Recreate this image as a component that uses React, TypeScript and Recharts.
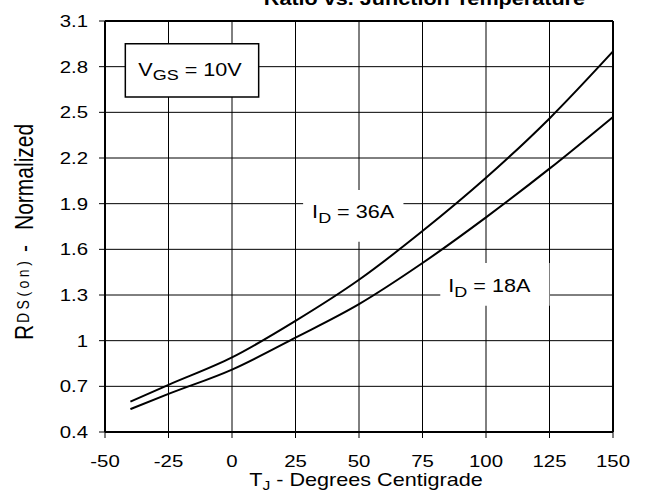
import { LineChart, Line, XAxis, YAxis, CartesianGrid, ReferenceArea, ReferenceLine } from 'recharts'

const temps = [-40, -25, 0, 25, 50, 75, 100, 125, 150]
const id36 = [0.6, 0.71, 0.89, 1.13, 1.4, 1.72, 2.07, 2.46, 2.9]
const id18 = [0.55, 0.65, 0.81, 1.02, 1.24, 1.51, 1.81, 2.13, 2.47]
const xTicks = [-50, -25, 0, 25, 50, 75, 100, 125, 150]
const yTicks = [0.4, 0.7, 1, 1.3, 1.6, 1.9, 2.2, 2.5, 2.8, 3.1]

const data = temps.map((t, i) => ({ t, a36: id36[i], a18: id18[i] }))

const FONT = '"Liberation Sans", Arial, sans-serif'
// the source figure is stretched sideways, so horizontal text gets a bit of x scale
const SX = 1.2

function XTick({ x, y, payload }: any) {
  return (
    <text transform={`translate(${x} ${y}) scale(${SX} 1)`} textAnchor="middle" dy="0.71em"
      fontFamily={FONT} fontSize={17} fill="#000">
      {payload.value}
    </text>
  )
}

function YTick({ x, y, payload }: any) {
  const v = Math.round(payload.value * 10) / 10
  return (
    <text transform={`translate(${x} ${y}) scale(${SX} 1)`} textAnchor="end" dy="0.355em"
      fontFamily={FONT} fontSize={17} fill="#000">
      {String(v)}
    </text>
  )
}

function BoxLabel({ viewBox, main, sub, rest, dx, dy, subDy }: any) {
  if (!viewBox) return null
  return (
    <text transform={`translate(${viewBox.x + dx} ${viewBox.y + dy}) scale(${SX} 1)`}
      fontFamily={FONT} fontSize={18} fill="#000">
      {main}
      <tspan fontSize={15} dy={subDy}>{sub}</tspan>
      <tspan dy={-subDy}>{rest}</tspan>
    </text>
  )
}

export default function App() {
  return (
    <div style={{ position: 'absolute', left: 0, top: 0, width: 650, height: 502, background: '#fff' }}>
      <LineChart width={650} height={502} data={data} margin={{ top: 21, right: 37, bottom: 40, left: 45 }}>
        <text transform={`translate(585 5) scale(${SX} 1)`} textAnchor="end" fontFamily={FONT}
          fontSize={18} fontWeight="bold" fill="#000">
          Ratio vs. Junction Temperature
        </text>
        {/* axis titles */}
        <text transform={`translate(366 486) scale(${SX} 1)`} textAnchor="middle" fontFamily={FONT}
          fontSize={18} fill="#000">
          T<tspan fontSize={13} dy={4}>J</tspan>
          <tspan dy={-4}> - Degrees Centigrade</tspan>
        </text>
        <text transform="translate(33 340) rotate(-90) scale(1 1.2)" fontFamily={FONT} fontSize={21} fill="#000">
          <tspan x={0}>R</tspan>
          <tspan x={17} dy={-3} fontSize={14} letterSpacing={3.5}>DS(on)</tspan>
          <tspan x={88} dy={3}>-</tspan>
          <tspan x={110}>Normalized</tspan>
        </text>
        <CartesianGrid stroke="#000" strokeWidth={1} />
        <XAxis
          dataKey="t"
          type="number"
          domain={[-50, 150]}
          ticks={xTicks}
          interval={0}
          tickSize={6}
          tickMargin={17}
          axisLine={{ stroke: '#000', strokeWidth: 2 }}
          tickLine={{ stroke: '#000' }}
          tick={<XTick />}
        />
        <YAxis
          type="number"
          domain={[0.4, 3.1]}
          ticks={yTicks}
          interval={0}
          width={60}
          tickSize={6}
          tickMargin={11}
          axisLine={{ stroke: '#000', strokeWidth: 2 }}
          tickLine={{ stroke: '#000' }}
          tick={<YTick />}
        />
        <ReferenceLine y={3.1} stroke="#000" strokeWidth={2} />
        <ReferenceLine x={150} stroke="#000" strokeWidth={2} />
        <ReferenceArea
          x1={-42}
          x2={10.5}
          y1={2.6}
          y2={2.95}
          fill="#fff"
          fillOpacity={1}
          stroke="#000"
          strokeWidth={1.5}
          label={<BoxLabel main="V" sub="GS" rest=" = 10V" dx={13} dy={32} subDy={4} />}
        />
        <ReferenceArea
          x1={28}
          x2={67.5}
          y1={1.65}
          y2={1.99}
          fill="#fff"
          fillOpacity={1}
          stroke="none"
          label={<BoxLabel main="I" sub="D" rest=" = 36A" dx={9} dy={28} subDy={5} />}
        />
        <ReferenceArea
          x1={82}
          x2={125}
          y1={1.23}
          y2={1.51}
          fill="#fff"
          fillOpacity={1}
          stroke="none"
          label={<BoxLabel main="I" sub="D" rest=" = 18A" dx={8} dy={29} subDy={5} />}
        />
        <Line type="monotone" dataKey="a36" stroke="#000" strokeWidth={2} dot={false} isAnimationActive={false} />
        <Line type="monotone" dataKey="a18" stroke="#000" strokeWidth={2} dot={false} isAnimationActive={false} />
      </LineChart>
    </div>
  )
}
